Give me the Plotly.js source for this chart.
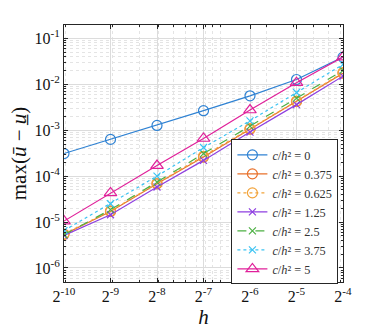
<!DOCTYPE html>
<html>
<head>
<meta charset="utf-8">
<script src="https://cdn.plot.ly/plotly-3.0.1.min.js"></script>
<style>
  html, body { margin: 0; padding: 0; background: #fff; }
  #chart { width: 379px; height: 332px; }
</style>
</head>
<body>
<div id="chart"></div>
<script>
const hExp = [-10, -9, -8, -7, -6, -5, -4];
const h = hExp.map(e => Math.pow(2, e));

const err0 = [3.1e-4, 6.3e-4, 1.27e-3, 2.66e-3, 5.6e-3, 1.27e-2, 3.9e-2];
const err0375 = [5.4e-6, 1.7e-5, 6.8e-5, 2.6e-4, 1.05e-3, 4.2e-3, 1.74e-2];
const err0625 = [5.5e-6, 1.75e-5, 7.0e-5, 2.7e-4, 1.08e-3, 4.3e-3, 1.8e-2];
const err125 = [5.1e-6, 1.44e-5, 5.8e-5, 2.2e-4, 9.1e-4, 3.6e-3, 1.5e-2];
const err25 = [5.3e-6, 1.86e-5, 7.4e-5, 3.1e-4, 1.23e-3, 5.0e-3, 2.0e-2];
const err375 = [6.5e-6, 2.5e-5, 1.0e-4, 4.2e-4, 1.6e-3, 6.6e-3, 2.7e-2];
const err5 = [1.05e-5, 4.3e-5, 1.7e-4, 6.6e-4, 2.75e-3, 1.08e-2, 3.9e-2];

const ratioLabels = ['0', '0.375', '0.625', '1.25', '2.5', '3.75', '5'];
const xTickText = hExp.map(e => '2<sup>' + e + '</sup>');
const yExp = [-6, -5, -4, -3, -2, -1];
const yTickText = yExp.map(e => '10<sup>' + e + '</sup>');

const serif = 'Liberation Serif';
const legendName = r => '<i>c</i>/<i>h</i>\u00b2 = ' + r;

const styles = [
  { y: err0, color: '#2f82d3', dash: 'solid', symbol: 'circle-open', size: 10 },
  { y: err0375, color: '#e8702a', dash: 'solid', symbol: 'circle-open', size: 10 },
  { y: err0625, color: '#f2a33a', dash: 'dot', symbol: 'circle-open', size: 10 },
  { y: err125, color: '#8e3ee0', dash: 'solid', symbol: 'x-thin-open', size: 7 },
  { y: err25, color: '#4cb043', dash: 'dash', symbol: 'x-thin-open', size: 7 },
  { y: err375, color: '#3cc3f2', dash: 'dot', symbol: 'x-thin-open', size: 7 },
  { y: err5, color: '#e0209a', dash: 'solid', symbol: 'triangle-up-open', size: 11 }
];

const traces = styles.map((s, i) => ({
  x: h,
  y: s.y,
  type: 'scatter',
  mode: 'lines+markers',
  name: legendName(ratioLabels[i]),
  line: { color: s.color, width: 1.2, dash: s.dash },
  marker: { symbol: s.symbol, size: s.size, color: s.color, line: { color: s.color, width: 1.2 } }
}));

const xMinor = [];
for (let k = -4; k <= -2; k++) for (let m = 1; m <= 9; m++) xMinor.push(m * Math.pow(10, k));
const yMinor = [];
for (let k = -7; k <= -1; k++) for (let m = 2; m <= 9; m++) yMinor.push(m * Math.pow(10, k));

const axisBase = {
  type: 'log',
  showline: true,
  linecolor: '#262626',
  linewidth: 1,
  mirror: 'ticks',
  ticks: 'inside',
  ticklen: 4,
  tickcolor: '#262626',
  gridcolor: '#dcdcdc',
  gridwidth: 1,
  zeroline: false,
  automargin: false,
  tickfont: { family: serif, size: 16, color: '#111' }
};

Plotly.newPlot('chart', traces, {
  width: 379,
  height: 332,
  paper_bgcolor: '#ffffff',
  plot_bgcolor: '#ffffff',
  margin: { l: 64, r: 36, t: 25, b: 50 },
  font: { family: serif, color: '#111' },
  xaxis: {
    ...axisBase,
    range: [Math.log10(Math.pow(2, -10)), Math.log10(Math.pow(2, -4))],
    tickmode: 'array',
    tickvals: h,
    ticktext: xTickText,
    minor: { tickmode: 'array', tickvals: xMinor, ticks: 'inside', ticklen: 2, tickcolor: '#262626', showgrid: true, gridcolor: '#e4e4e4', griddash: 'dot', gridwidth: 1 },
    title: { text: '<i>h</i>', font: { family: serif, size: 21 }, standoff: 2 }
  },
  yaxis: {
    ...axisBase,
    range: [-6.305, -0.71],
    tickmode: 'array',
    tickvals: yExp.map(e => Math.pow(10, e)),
    ticktext: yTickText,
    minor: { tickmode: 'array', tickvals: yMinor, ticks: 'inside', ticklen: 2, tickcolor: '#262626', showgrid: true, gridcolor: '#e4e4e4', griddash: 'dot', gridwidth: 1 },
    title: { text: 'max(<i>u\u0304</i> \u2212 <i>u\u0332</i>)', font: { family: serif, size: 21 }, standoff: 2 }
  },
  legend: {
    x: 0.6, y: 0.555, xanchor: 'left', yanchor: 'top',
    bgcolor: '#ffffff',
    bordercolor: '#262626',
    borderwidth: 1,
    font: { family: serif, size: 12.3, color: '#333' },
    tracegroupgap: 0,
    itemwidth: 30
  },
  showlegend: true
}, { displayModeBar: false, staticPlot: true });
</script>
</body>
</html>
